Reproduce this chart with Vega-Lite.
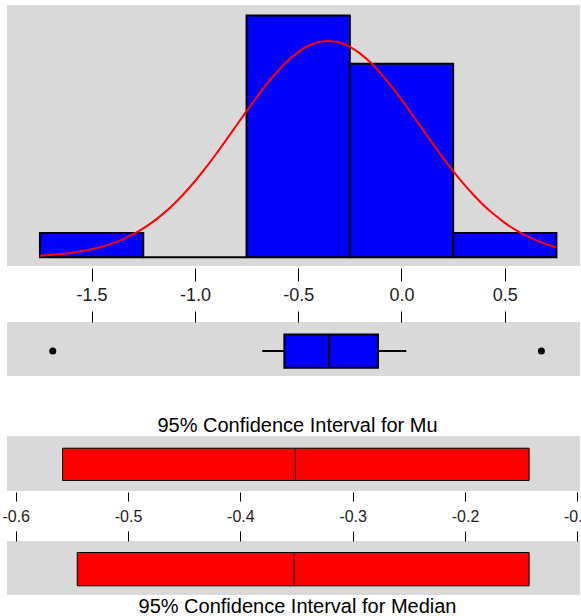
{
  "$schema": "https://vega.github.io/schema/vega-lite/v6.json",
  "background": "white",
  "padding": {"left": 1, "top": 5, "right": 0, "bottom": 0},
  "spacing": 6,
  "resolve": {"scale": {"x": "independent", "y": "independent"}},
  "config": {
    "font": "Liberation Sans",
    "view": {"stroke": null},
    "axis": {"grid": false, "domain": false, "tickColor": "#000", "tickWidth": 1, "labelColor": "#222", "labelFont": "Liberation Sans", "labelFlush": false, "labelOverlap": false, "title": null}
  },
  "datasets": {
    "bins": [
      {"bin_start": -1.75, "bin_end": -1.25, "count": 1},
      {"bin_start": -1.25, "bin_end": -0.75, "count": 0},
      {"bin_start": -0.75, "bin_end": -0.25, "count": 10},
      {"bin_start": -0.25, "bin_end": 0.25, "count": 8},
      {"bin_start": 0.25, "bin_end": 0.75, "count": 1}
    ],
    "curve": [
      {"x": -1.75, "y": 0.067}, {"x": -1.70, "y": 0.095}, {"x": -1.65, "y": 0.132}, {"x": -1.60, "y": 0.182},
      {"x": -1.55, "y": 0.247}, {"x": -1.50, "y": 0.331}, {"x": -1.45, "y": 0.439}, {"x": -1.40, "y": 0.575},
      {"x": -1.35, "y": 0.742}, {"x": -1.30, "y": 0.947}, {"x": -1.25, "y": 1.194}, {"x": -1.20, "y": 1.486},
      {"x": -1.15, "y": 1.826}, {"x": -1.10, "y": 2.217}, {"x": -1.05, "y": 2.657}, {"x": -1.00, "y": 3.143},
      {"x": -0.95, "y": 3.674}, {"x": -0.90, "y": 4.240}, {"x": -0.85, "y": 4.832}, {"x": -0.80, "y": 5.438},
      {"x": -0.75, "y": 6.043}, {"x": -0.70, "y": 6.632}, {"x": -0.65, "y": 7.188}, {"x": -0.60, "y": 7.692},
      {"x": -0.55, "y": 8.129}, {"x": -0.50, "y": 8.484}, {"x": -0.45, "y": 8.745}, {"x": -0.40, "y": 8.899},
      {"x": -0.35, "y": 8.944}, {"x": -0.30, "y": 8.877}, {"x": -0.25, "y": 8.701}, {"x": -0.20, "y": 8.421},
      {"x": -0.15, "y": 8.049}, {"x": -0.10, "y": 7.596}, {"x": -0.05, "y": 7.080}, {"x": 0.00, "y": 6.516},
      {"x": 0.05, "y": 5.922}, {"x": 0.10, "y": 5.316}, {"x": 0.15, "y": 4.712}, {"x": 0.20, "y": 4.124},
      {"x": 0.25, "y": 3.565}, {"x": 0.30, "y": 3.042}, {"x": 0.35, "y": 2.564}, {"x": 0.40, "y": 2.134},
      {"x": 0.45, "y": 1.755}, {"x": 0.50, "y": 1.424}, {"x": 0.55, "y": 1.141}, {"x": 0.60, "y": 0.903},
      {"x": 0.65, "y": 0.707}, {"x": 0.70, "y": 0.545}, {"x": 0.75, "y": 0.416}
    ],
    "box": [
      {"q1": -0.567, "median": -0.351, "q3": -0.114, "lo": -0.674, "hi": 0.023}
    ],
    "outliers": [
      {"value": -1.688}, {"value": 0.677}
    ],
    "ci_mu": [
      {"lo": -0.5583, "center": -0.351, "hi": -0.1429}
    ],
    "ci_median": [
      {"lo": -0.5452, "center": -0.3522, "hi": -0.1429}
    ]
  },
  "vconcat": [
    {
      "width": 573,
      "height": 261,
      "view": {"fill": "#D9D9D9", "stroke": null},
      "layer": [
        {
          "data": {"name": "bins"},
          "mark": {"type": "bar", "fill": "#0000FF", "stroke": "#000", "strokeWidth": 2},
          "encoding": {
            "x": {"field": "bin_start", "type": "quantitative",
              "scale": {"domain": [-1.9095, 0.864], "nice": false, "zero": false},
              "axis": {"orient": "bottom", "values": [-1.5, -1, -0.5, 0, 0.5], "offset": 2, "tickSize": 13, "labelPadding": 5, "labelFontSize": 18,
                "labelExpr": "(datum.value < 0 ? '-' : '') + format(abs(datum.value), '.1f')"}},
            "x2": {"field": "bin_end"},
            "y": {"field": "count", "type": "quantitative", "scale": {"domain": [-0.36, 10.43], "nice": false, "zero": false}, "axis": null},
            "y2": {"datum": 0}
          }
        },
        {
          "data": {"name": "curve"},
          "mark": {"type": "line", "color": "#FF0000", "strokeWidth": 2, "interpolate": "monotone"},
          "encoding": {
            "x": {"field": "x", "type": "quantitative"},
            "y": {"field": "y", "type": "quantitative"}
          }
        }
      ]
    },
    {
      "width": 573,
      "height": 54,
      "view": {"fill": "#D9D9D9", "stroke": null},
      "layer": [
        {
          "data": {"name": "box"},
          "mark": {"type": "rule", "color": "#000", "strokeWidth": 2},
          "encoding": {
            "x": {"field": "lo", "type": "quantitative",
              "scale": {"domain": [-1.9095, 0.864], "nice": false, "zero": false},
              "axis": {"orient": "top", "values": [-1.5, -1, -0.5, 0, 0.5], "labels": false, "tickSize": 11}},
            "x2": {"field": "hi"},
            "y": {"datum": 0.462, "type": "quantitative", "scale": {"domain": [0, 1], "nice": false, "zero": false}, "axis": null}
          }
        },
        {
          "data": {"name": "box"},
          "mark": {"type": "bar", "fill": "#0000FF", "stroke": "#000", "strokeWidth": 2},
          "encoding": {
            "x": {"field": "q1", "type": "quantitative"},
            "x2": {"field": "q3"},
            "y": {"datum": 0.155, "type": "quantitative"},
            "y2": {"datum": 0.77}
          }
        },
        {
          "data": {"name": "box"},
          "mark": {"type": "rule", "color": "#000", "strokeWidth": 2},
          "encoding": {
            "x": {"field": "median", "type": "quantitative"},
            "y": {"datum": 0.155, "type": "quantitative"},
            "y2": {"datum": 0.77}
          }
        },
        {
          "data": {"name": "outliers"},
          "mark": {"type": "point", "shape": "circle", "filled": true, "color": "#000", "size": 50, "opacity": 1},
          "encoding": {
            "x": {"field": "value", "type": "quantitative"},
            "y": {"datum": 0.462, "type": "quantitative"}
          }
        }
      ]
    },
    {
      "width": 573,
      "height": 55,
      "view": {"fill": "#D9D9D9", "stroke": null},
      "title": {"text": ["", "95% Confidence Interval for Mu"], "lineHeight": 34, "fontSize": 20, "font": "Liberation Sans", "fontWeight": "normal", "color": "#000", "offset": 0, "dx": 4, "anchor": "middle"},
      "layer": [
        {
          "data": {"name": "ci_mu"},
          "mark": {"type": "bar", "fill": "#FF0000", "stroke": "#000", "strokeWidth": 1},
          "encoding": {
            "x": {"field": "lo", "type": "quantitative",
              "scale": {"domain": [-0.60775, -0.0976], "nice": false, "zero": false},
              "axis": {"orient": "bottom", "values": [-0.6, -0.5, -0.4, -0.3, -0.2, -0.1], "offset": 1, "tickSize": 9, "labelPadding": 7, "labelFontSize": 16,
                "labelExpr": "(datum.value < 0 ? '-' : '') + format(abs(datum.value), '.1f')"}},
            "x2": {"field": "hi"},
            "y": {"datum": 0.191, "type": "quantitative", "scale": {"domain": [0, 1], "nice": false, "zero": false}, "axis": null},
            "y2": {"datum": 0.778}
          }
        },
        {
          "data": {"name": "ci_mu"},
          "mark": {"type": "rule", "color": "#000", "strokeWidth": 1},
          "encoding": {
            "x": {"field": "center", "type": "quantitative"},
            "y": {"datum": 0.191, "type": "quantitative"},
            "y2": {"datum": 0.778}
          }
        }
      ]
    },
    {
      "width": 573,
      "height": 54,
      "view": {"fill": "#D9D9D9", "stroke": null},
      "title": {"text": "95% Confidence Interval for Median", "orient": "bottom", "fontSize": 20, "font": "Liberation Sans", "fontWeight": "normal", "color": "#000", "offset": 2, "dx": 4, "anchor": "middle"},
      "layer": [
        {
          "data": {"name": "ci_median"},
          "mark": {"type": "bar", "fill": "#FF0000", "stroke": "#000", "strokeWidth": 1},
          "encoding": {
            "x": {"field": "lo", "type": "quantitative",
              "scale": {"domain": [-0.60775, -0.0976], "nice": false, "zero": false},
              "axis": {"orient": "top", "values": [-0.6, -0.5, -0.4, -0.3, -0.2, -0.1], "labels": false, "tickSize": 10}},
            "x2": {"field": "hi"},
            "y": {"datum": 0.17, "type": "quantitative", "scale": {"domain": [0, 1], "nice": false, "zero": false}, "axis": null},
            "y2": {"datum": 0.787}
          }
        },
        {
          "data": {"name": "ci_median"},
          "mark": {"type": "rule", "color": "#000", "strokeWidth": 1},
          "encoding": {
            "x": {"field": "center", "type": "quantitative"},
            "y": {"datum": 0.17, "type": "quantitative"},
            "y2": {"datum": 0.787}
          }
        }
      ]
    }
  ]
}
